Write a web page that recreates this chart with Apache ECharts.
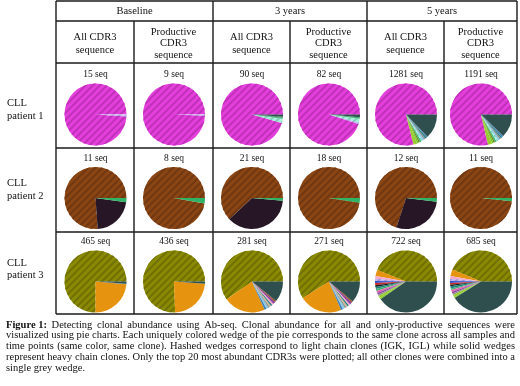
<!DOCTYPE html>
<html>
<head>
<meta charset="utf-8">
<script src="https://cdn.jsdelivr.net/npm/echarts@6/dist/echarts.min.js"></script>
<style>
html,body{margin:0;padding:0;background:#fff;}
#chart{width:520px;height:386px;}
</style>
</head>
<body>
<div id="chart"></div>
<script>
// ---------- DATA ----------
const timepoints = ['Baseline', '3 years', '5 years'];
const columnHeaders = ['All CDR3\nsequence', 'Productive\nCDR3\nsequence'];
const patients = ['CLL\npatient 1', 'CLL\npatient 2', 'CLL\npatient 3'];
const seqCounts = [
  [15, 9, 90, 82, 1281, 1191],
  [11, 8, 21, 18, 12, 11],
  [465, 436, 281, 271, 722, 685]
];
// Slices: [clone, share of pie in degrees], counter-clockwise from 3 o'clock
const p1BaseAll  = [['P1 IGK main', 356.5], ['lavender', 2], ['lightcyan', 1.5]];
const p1BaseProd = [['P1 IGK main', 357.5], ['lavender', 1.5], ['lightcyan', 1]];
const p1Y3All    = [['P1 IGK main', 344], ['aquamarine', 8], ['seagreen', 2], ['green', 2], ['other', 4]];
const p1Y3Prod   = [['P1 IGK main', 342], ['lavender', 3], ['aquamarine', 7], ['seagreen', 3], ['other', 5]];
const p1Y5All    = [['P1 IGK main', 284], ['yellowgreen', 7], ['limegreen', 3], ['olivedrab', 3], ['seagreen', 3], ['aquamarine', 3], ['lightblue', 3], ['gray', 3], ['teal', 3], ['steelblue', 2], ['other', 46]];
const p1Y5Prod   = [['P1 IGK main', 283], ['yellowgreen', 8], ['limegreen', 3], ['olivedrab', 3], ['seagreen', 3], ['aquamarine', 4], ['lightblue', 3], ['gray', 3], ['teal', 3], ['steelblue', 3], ['other', 44]];

const p2BaseAll  = [['P2 IGK main', 274], ['P2 IGH main', 78], ['P2 green', 8]];
const p2BaseProd = [['P2 IGK main', 350], ['P2 green', 10]];
const p2Y3All    = [['P2 IGK main', 223], ['P2 IGH main', 132], ['P2 green', 5]];
const p2Y3Prod   = [['P2 IGK main', 351], ['P2 green', 9]];
const p2Y5All    = [['P2 IGK main', 252], ['P2 IGH main', 101], ['P2 green', 7]];
const p2Y5Prod   = [['P2 IGK main', 354], ['P2 green', 6]];

const p3BaseAll  = [['P3 IGK main', 270], ['P3 IGH main', 85], ['steelblue', 1], ['other', 4]];
const p3BaseProd = [['P3 IGK main', 272], ['P3 IGH main', 84], ['other', 4]];
const p3Y3All    = [['P3 IGK main', 215], ['P3 IGH main', 79], ['steelblue', 4], ['lightblue', 4], ['gray', 3], ['tan', 3], ['teal', 3], ['pink', 3], ['purple', 4], ['sienna', 3], ['other', 39]];
const p3Y3Prod   = [['P3 IGK main', 212], ['P3 IGH main', 81], ['steelblue', 4], ['lightblue', 4], ['gray', 3], ['tan', 3], ['teal', 3], ['pink', 3], ['purple', 4], ['sienna', 3], ['other', 40]];
const p3Y5All    = [['P3 IGK main', 158], ['P3 IGH main', 12], ['pink', 5], ['lavender', 4], ['blue', 4], ['red', 4], ['black', 3], ['teal', 4], ['seagreen', 4], ['hotpink', 4], ['purple', 3], ['gray', 3], ['yellowgreen', 4], ['limegreen', 3], ['other', 145]];
const p3Y5Prod   = [['P3 IGK main', 157], ['P3 IGH main', 13], ['pink', 5], ['lavender', 4], ['blue', 4], ['red', 3], ['black', 3], ['teal', 4], ['seagreen', 3], ['hotpink', 4], ['purple', 3], ['gray', 3], ['yellowgreen', 4], ['limegreen', 2], ['other', 148]];

const pies = [
  [p1BaseAll, p1BaseProd, p1Y3All, p1Y3Prod, p1Y5All, p1Y5Prod],
  [p2BaseAll, p2BaseProd, p2Y3All, p2Y3Prod, p2Y5All, p2Y5Prod],
  [p3BaseAll, p3BaseProd, p3Y3All, p3Y3Prod, p3Y5All, p3Y5Prod]
];

const captionLines = [
  'Detecting clonal abundance using Ab-seq. Clonal abundance for all and only-productive sequences were',
  'visualized using pie charts. Each uniquely colored wedge of the pie corresponds to the same clone across all samples and',
  'time points (same color, same clone). Hashed wedges correspond to light chain clones (IGK, IGL) while solid wedges',
  'represent heavy chain clones. Only the top 20 most abundant CDR3s were plotted; all other clones were combined into a',
  'single grey wedge.'
];
const captionLead = 'Figure 1:';

// ---------- STYLES ----------
const cloneColors = {
  'P1 IGK main': '#e43fdc', 'P2 IGK main': '#8b4513', 'P2 IGH main': '#261626', 'P2 green': '#2fb364',
  'P3 IGK main': '#8a8a00', 'P3 IGH main': '#e6940f', 'other': '#2f4f4f',
  'lavender': '#c4b4f0', 'lightcyan': '#c8f4f4', 'aquamarine': '#a8f0dc', 'seagreen': '#3cb371', 'green': '#2e8b57',
  'yellowgreen': '#9acd32', 'limegreen': '#7ccd20', 'olivedrab': '#6b8e23', 'lightblue': '#87c8e8', 'gray': '#909090',
  'teal': '#208080', 'steelblue': '#4682b4', 'tan': '#d2b48c', 'pink': '#f4a8c8', 'purple': '#8a3ca8', 'sienna': '#a0522d',
  'blue': '#3050d0', 'red': '#c83030', 'black': '#181818', 'hotpink': '#e868b0'
};
const hatched = { 'P1 IGK main': '#c030b8', 'P2 IGK main': '#703812', 'P3 IGK main': '#707000', 'lavender': '#a090d0', 'aquamarine': '#80d0b8' };

const FONT = 'Liberation Serif';
const colX = [56, 134, 213, 290, 367, 444, 517];
const rowY = [1, 21, 63, 148, 232, 314];
const pieCY = [114.5, 198, 281.5];
const seqLabelY = [74, 158, 241.5];
const rowLabelY = [109.5, 189.5, 269];
const R = 31;
const CAP_X0 = 6, CAP_X1 = 515, CAP_SIZE = 10.5;
const capY = [324.8, 335.6, 346.4, 357.2, 368];

// ---------- BUILD ----------
const series = [];
const graphic = [];
const line = (x1, y1, x2, y2) => graphic.push({ type: 'line', silent: true, shape: { x1, y1, x2, y2 }, style: { stroke: '#1a1a1a', lineWidth: 1.4 } });
const text = (t, x, y, size, opts, weight) => graphic.push({ type: 'text', silent: true, style: Object.assign({ text: t, x, y, fill: '#111', font: (weight ? weight + ' ' : '') + size + 'px "' + FONT + '"', textAlign: 'center', textVerticalAlign: 'middle' }, opts || {}) });

// table lines
rowY.forEach(y => line(colX[0], y, colX[6], y));
[0, 2, 4, 6].forEach(i => line(colX[i], rowY[0], colX[i], rowY[5]));
[1, 3, 5].forEach(i => line(colX[i], rowY[1], colX[i], rowY[5]));

// headers
timepoints.forEach((t, i) => text(t, (colX[2 * i] + colX[2 * i + 2]) / 2, 11.5, 10.5));
for (let c = 0; c < 6; c++) {
  const h = columnHeaders[c % 2];
  text(h, (colX[c] + colX[c + 1]) / 2, 43.5, 10.5, { lineHeight: c % 2 ? 11.5 : 12.5 });
}
patients.forEach((p, r) => text(p, 7, rowLabelY[r], 10.5, { textAlign: 'left', lineHeight: 12.5 }));

// pies
for (let r = 0; r < 3; r++) {
  for (let c = 0; c < 6; c++) {
    const cx = (colX[c] + colX[c + 1]) / 2 + 0.5;
    text(seqCounts[r][c] + ' seq', cx, seqLabelY[r], 9.5);
    series.push({
      type: 'pie', silent: true, animation: false,
      center: [cx, pieCY[r]], radius: R,
      startAngle: 0, clockwise: false, minAngle: 0, avoidLabelOverlap: false,
      label: { show: false }, labelLine: { show: false },
      emphasis: { disabled: true },
      data: pies[r][c].map(([name, v]) => {
        const itemStyle = { color: cloneColors[name], borderWidth: 0 };
        if (hatched[name]) itemStyle.decal = { symbol: 'rect', symbolSize: 1, dashArrayX: [1, 0], dashArrayY: [1.3, 2.9], rotation: -Math.PI / 4, color: hatched[name] };
        return { name, value: v, itemStyle };
      })
    });
  }
}

// caption (justified like the original, last line left-aligned)
const mctx = document.createElement('canvas').getContext('2d');
const measure = (s, bold) => { mctx.font = (bold ? 'bold ' : '') + CAP_SIZE + 'px "' + FONT + '"'; return mctx.measureText(s).width; };
captionLines.forEach((l, i) => {
  const words = l.split(' ').map(w => ({ w, bold: false }));
  if (i === 0) words.unshift({ w: captionLead, bold: true });
  const last = i === captionLines.length - 1;
  if (last) {
    text(l, CAP_X0, capY[i], CAP_SIZE, { textAlign: 'left' });
    return;
  }
  const widths = words.map(o => measure(o.w, o.bold));
  const total = widths.reduce((a, b) => a + b, 0);
  const gap = (CAP_X1 - CAP_X0 - total) / (words.length - 1);
  let x = CAP_X0;
  words.forEach((o, k) => {
    text(o.w, x, capY[i], CAP_SIZE, { textAlign: 'left' }, o.bold ? 'bold' : '');
    x += widths[k] + gap;
  });
});

const chart = echarts.init(document.getElementById('chart'), null, { renderer: 'canvas', width: 520, height: 386 });
chart.setOption({ animation: false, backgroundColor: '#fff', series, graphic });
</script>
</body>
</html>
